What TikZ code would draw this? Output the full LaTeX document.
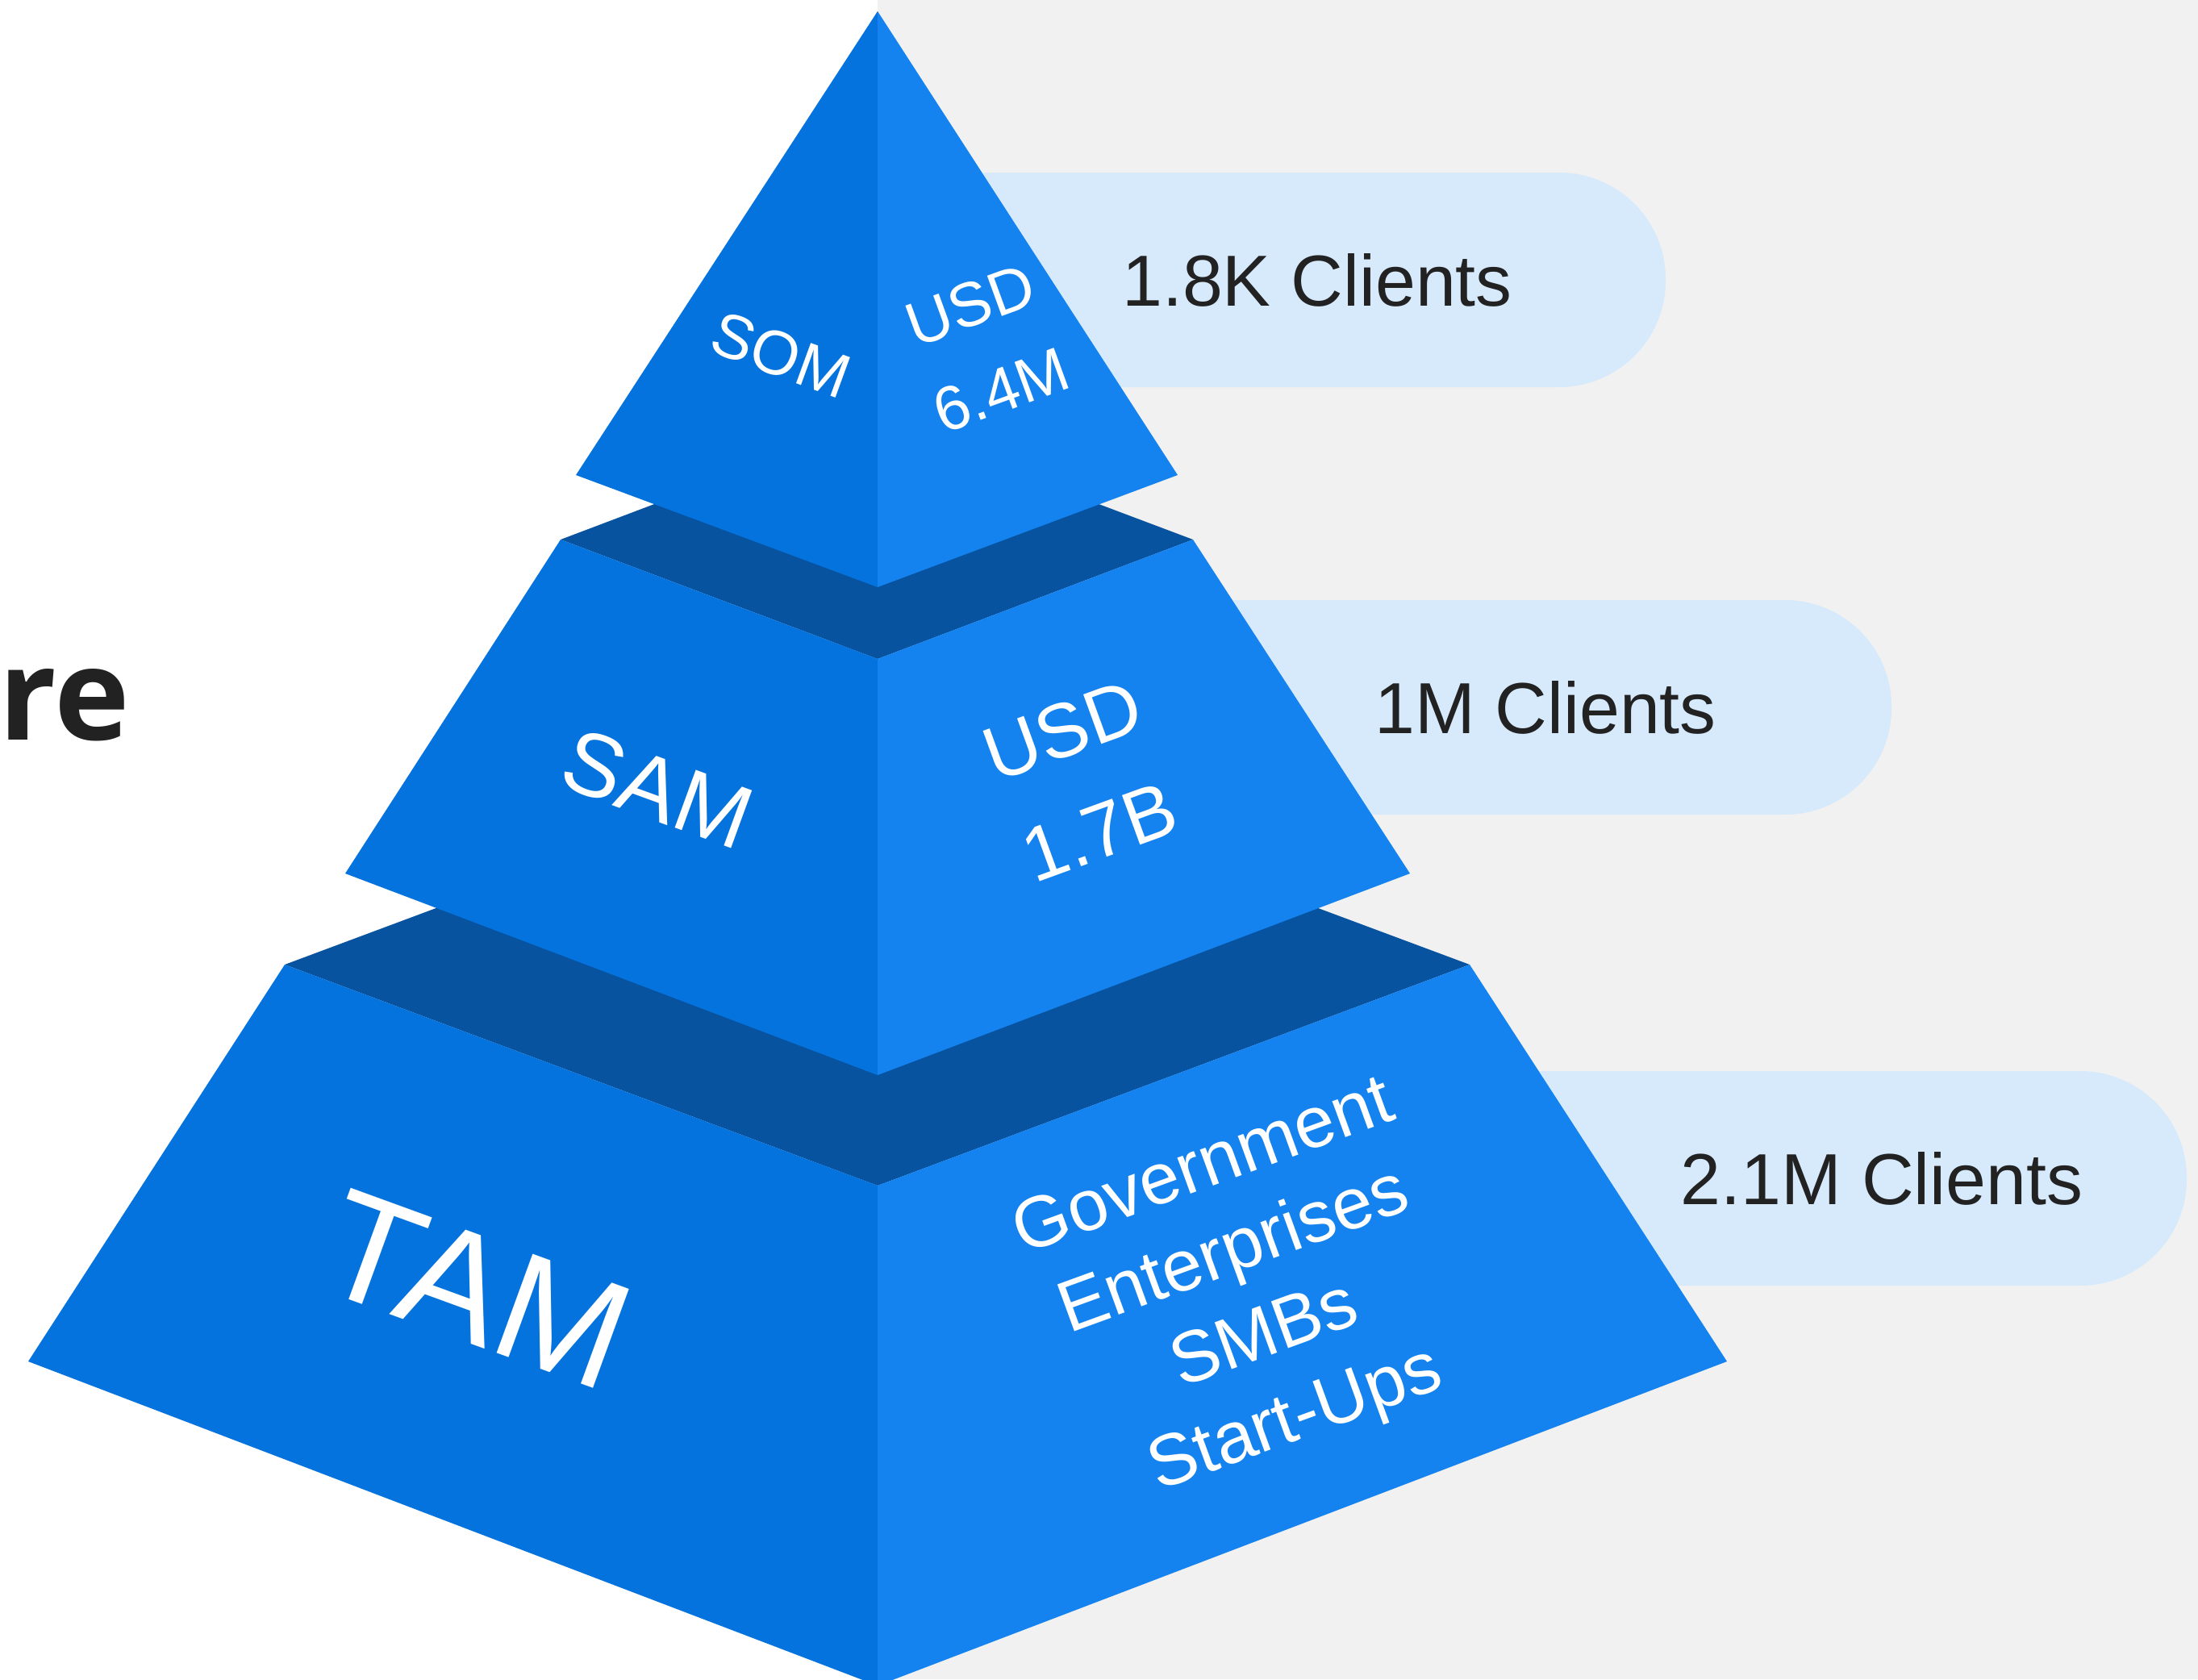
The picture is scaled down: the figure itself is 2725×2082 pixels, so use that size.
\documentclass[tikz,border=0pt]{standalone}
\usepackage{fontspec}
\setmainfont{Liberation Sans}
\newfontfamily\headfont{Open Sans}
\definecolor{leftface}{HTML}{0573DE}
\definecolor{rightface}{HTML}{1483F0}
\definecolor{topface}{HTML}{07539F}
\definecolor{pillblue}{HTML}{D6EAFC}
\definecolor{bggray}{HTML}{F1F1F1}
\definecolor{txt}{HTML}{222222}
\tikzset{
  pill/.style={fill=pillblue, rounded corners=1.32cm},
  clients/.style={text=txt, inner sep=0pt, font=\fontsize{25.5}{30}\selectfont},
  lbl/.style={text=white, inner sep=0pt, align=center},
}
\begin{document}
\begin{tikzpicture}[x=0.01cm,y=-0.01cm]
\useasboundingbox (0,0) rectangle (2725,2082);
\fill[white] (0,0) rectangle (1088,2082);
\fill[bggray] (1088,0) rectangle (2725,2082);
% pills
\fill[pill] (1000,214) rectangle (2065,480);
\fill[pill] (1000,744) rectangle (2345,1010);
\fill[pill] (1000,1328) rectangle (2711,1594);
\node[clients] (c1) at (1633,347) {1.8K Clients};
\node[clients] (c2) at (1916,877) {1M Clients};
\node[clients] (c3) at (2333,1461) {2.1M Clients};
% title fragment
\node[anchor=base west, inner sep=0pt, text=txt, font=\headfont\bfseries\fontsize{45}{54}\selectfont] (re) at (-2,917) {re};
% coordinates
\coordinate (A) at (1088,14);
\coordinate (T1L) at (714,589);
\coordinate (T1F) at (1088,728);
\coordinate (T1R) at (1460,589);
\coordinate (T2L) at (695,669);
\coordinate (T2F) at (1088,817);
\coordinate (T2R) at (1479,669);
\coordinate (T2B) at (1086,521);
\coordinate (B2L) at (428,1083);
\coordinate (B2F) at (1088,1333);
\coordinate (B2R) at (1748,1083);
\coordinate (T3L) at (353,1196);
\coordinate (T3F) at (1088,1470);
\coordinate (T3R) at (1822,1196);
\coordinate (T3B) at (1087,922);
\coordinate (B3L) at (35,1688);
\coordinate (B3F) at (1088,2090);
\coordinate (B3R) at (2141,1688);
% TAM layer
\fill[topface] (T3L) -- (T3F) -- (T3R) -- (T3B) -- cycle;
\fill[leftface] (T3L) -- (T3F) -- (B3F) -- (B3L) -- cycle;
\fill[rightface] (T3F) -- (T3R) -- (B3R) -- (B3F) -- cycle;
% SAM layer
\fill[topface] (T2L) -- (T2F) -- (T2R) -- (T2B) -- cycle;
\fill[leftface] (T2L) -- (T2F) -- (B2F) -- (B2L) -- cycle;
\fill[rightface] (T2F) -- (T2R) -- (B2R) -- (B2F) -- cycle;
% SOM layer
\fill[leftface] (A) -- (T1L) -- (T1F) -- cycle;
\fill[rightface] (A) -- (T1F) -- (T1R) -- cycle;
% labels
\node[lbl, rotate=-20, font=\fontsize{22}{26}\selectfont] (som) at (968,440) {SOM};
\node[lbl, rotate=20, font=\fontsize{22}{32}\selectfont] (somv) at (1222,431) {USD\\6.4M};
\node[lbl, rotate=-20, font=\fontsize{31.5}{36}\selectfont] (sam) at (815,978) {SAM};
\node[lbl, rotate=20, font=\fontsize{27}{38}\selectfont] (samv) at (1340,968) {USD\\1.7B};
\node[lbl, rotate=-20, font=\fontsize{54}{62}\selectfont] (tam) at (591,1599) {TAM};
\node[lbl, rotate=20, font=\fontsize{25.5}{31.5}\selectfont] (tamv) at (1550,1607) {Government\\Enterprises\\SMBs\\Start-Ups};
\end{tikzpicture}
\end{document}
